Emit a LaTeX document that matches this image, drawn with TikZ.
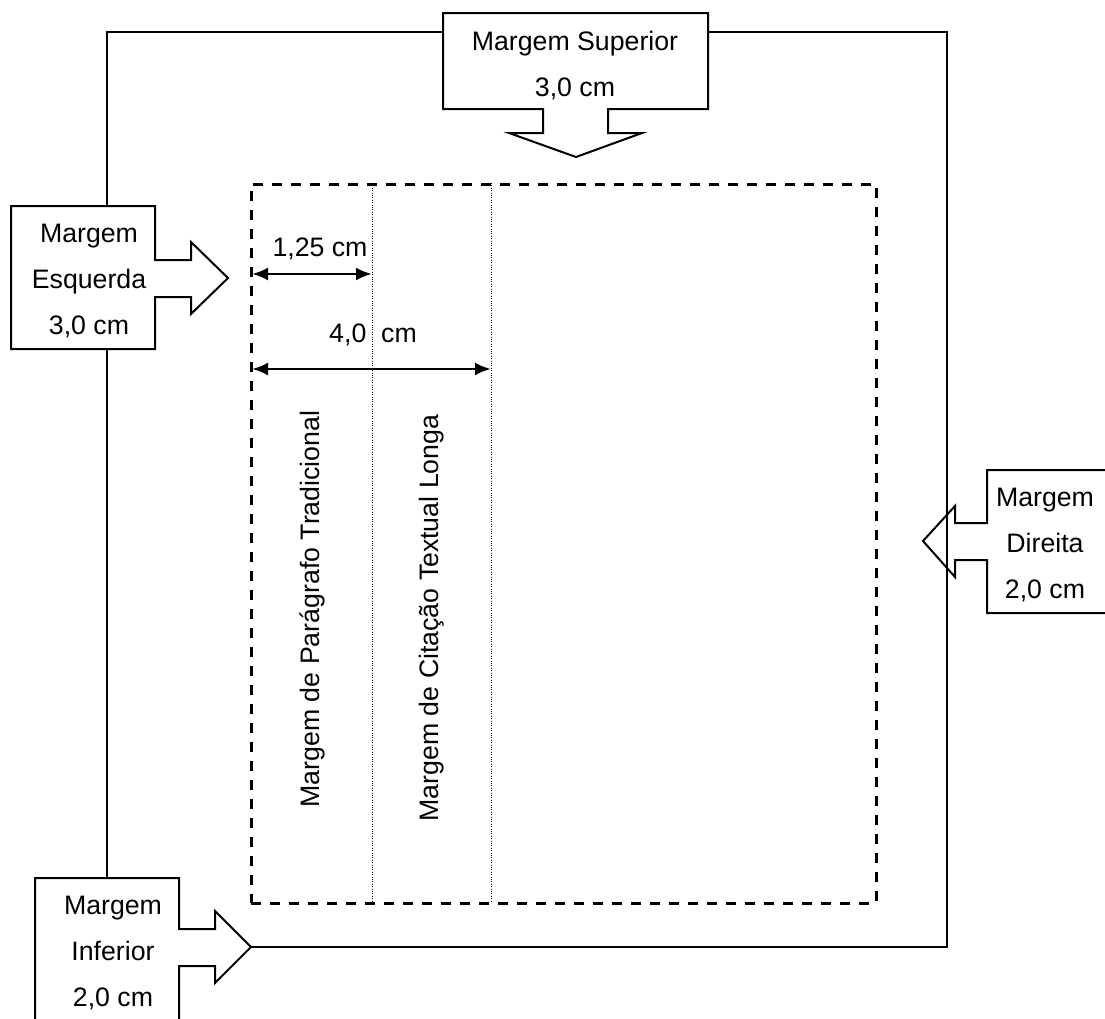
\documentclass[tikz,border=0pt]{standalone}
\usepackage{fontspec}
\setmainfont{Liberation Sans}
\usetikzlibrary{arrows.meta}
\begin{document}
\begin{tikzpicture}[x=1pt,y=-1pt,
  frame/.style={line width=2pt, line join=miter},
  callout/.style={line width=2pt, line join=miter},
  txt/.style={font=\fontsize{26.7}{46}\selectfont, align=center, inner sep=0pt},
  pagebox/.style={draw, line width=2.7pt, dash pattern=on 10pt off 9pt, inner sep=0pt},
  dotline/.style={line width=1pt, dash pattern=on 1pt off 1.4pt},
  dim/.style={line width=2.7pt, {Latex[length=16pt,width=13pt]}-{Latex[length=16pt,width=13pt]}}]
\clip (0,0) rectangle (1105,1018);

% callout shapes (box with a block arrow)
\draw[callout] (443,13) -- (708,13) -- (708,109) -- (608,109) -- (608,133) -- (642,133)
  -- (576,157) -- (509,133) -- (543,133) -- (543,109) -- (443,109) -- cycle;
\draw[callout] (11,206) -- (155,206) -- (155,260) -- (191,260) -- (191,242) -- (228,278)
  -- (191,314) -- (191,297) -- (155,297) -- (155,349) -- (11,349) -- cycle;
\draw[callout] (1120,470) -- (987,470) -- (987,523) -- (955,523) -- (955,506) -- (923,541)
  -- (955,577) -- (955,560) -- (987,560) -- (987,613) -- (1120,613);
\draw[callout] (35,1030) -- (35,878) -- (179,878) -- (179,929) -- (215,929) -- (215,911)
  -- (251,947) -- (215,983) -- (215,966) -- (179,966) -- (179,1030);

% callout texts
\node[txt] (sup) at (575,66) {Margem Superior\\3,0 cm};
\node[txt] (esq) at (89,281) {Margem\\Esquerda\\3,0 cm};
\node[txt] (dir) at (1045,545) {Margem\\Direita\\2,0 cm};
\node[txt] (inf) at (113,953) {Margem\\Inferior\\2,0 cm};

% outer margin frame joining the callouts
\coordinate (supW) at (443,32);
\coordinate (supE) at (708,32);
\coordinate (esqN) at (107,206);
\coordinate (esqS) at (107,349);
\coordinate (infN) at (107,878);
\coordinate (infTip) at (251,947);
\coordinate (cNW) at (107,32);
\coordinate (cNE) at (947,32);
\coordinate (cSE) at (947,947);
\draw[frame] (supW) -- (cNW) -- (esqN);
\draw[frame] (esqS) -- (infN);
\draw[frame] (infTip) -- (cSE) -- (cNE) -- (supE);

% text area
\node[pagebox, minimum width=625pt, minimum height=719pt, anchor=north west] (page) at (250,183) {};

% indentation guides
\coordinate (parT) at (372,183);
\coordinate (parB) at (372,902);
\coordinate (citT) at (491,183);
\coordinate (citB) at (491,902);
\draw[dotline] (parT) -- (parB);
\draw[dotline] (citT) -- (citB);

% dimension arrows
\coordinate (d1a) at (252,274);
\coordinate (d1b) at (372,274);
\coordinate (d2a) at (252,369);
\coordinate (d2b) at (491,369);
\draw[dim] (d1a) -- (d1b);
\draw[dim] (d2a) -- (d2b);
\node[txt] (l125) at (320,249) {1,25 cm};
\node[txt] (l40) at (373,335) {4,0~~cm};

% vertical labels
\node[txt, rotate=90] (par) at (312,609) {Margem de Parágrafo Tradicional};
\node[txt, rotate=90] (cit) at (432,618) {Margem de Citação Textual Longa};
\end{tikzpicture}
\end{document}
